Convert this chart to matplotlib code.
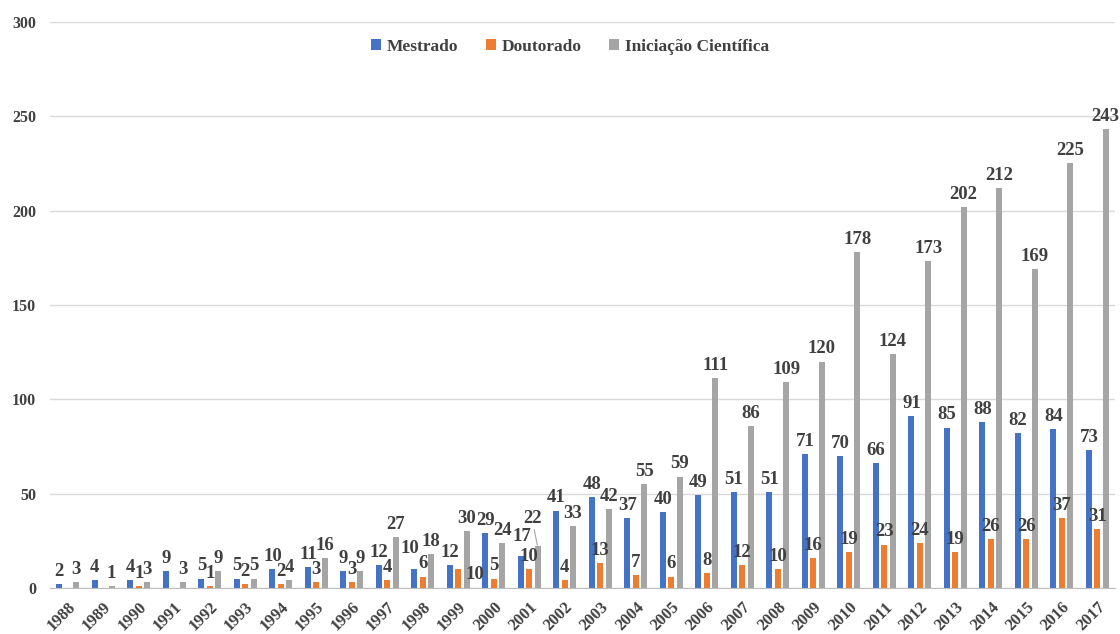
import numpy as np
import matplotlib.pyplot as plt

anos = [str(a) for a in range(1988, 2018)]
mestrado = [2, 4, 4, 9, 5, 5, 10, 11, 9, 12, 10, 12, 29, 17, 41, 48, 37, 40, 49, 51,
            51, 71, 70, 66, 91, 85, 88, 82, 84, 73]
doutorado = [0, 0, 1, 0, 1, 2, 2, 3, 3, 4, 6, 10, 5, 10, 4, 13, 7, 6, 8, 12,
             10, 16, 19, 23, 24, 19, 26, 26, 37, 31]
iniciacao = [3, 1, 3, 3, 9, 5, 4, 16, 9, 27, 18, 30, 24, 22, 33, 42, 55, 59, 111, 86,
             109, 120, 178, 124, 173, 202, 212, 169, 225, 243]

series = [("Mestrado", mestrado, "#4472C4"),
          ("Doutorado", doutorado, "#ED7D31"),
          ("Iniciação Científica", iniciacao, "#A5A5A5")]

# rotulos deslocados como no Excel (serie, ano): (dx, dy) em pontos
deslocados = {(1, "1999"): (12, -10), (2, "2001"): (-4, 14),
              (0, "2001"): (1, 8), (0, "1998"): (-3, 9)}

plt.rcParams['font.family'] = ['Liberation Serif', 'DejaVu Serif']
plt.rcParams['font.weight'] = 'bold'
txt = "#404040"

fig = plt.figure(figsize=(11.2, 6.34), dpi=100)
ax = fig.add_axes([0.0446, 0.0726, 0.951, 0.893])

x = np.arange(len(anos))
w = 0.17
step = 0.235
for i, (nome, vals, cor) in enumerate(series):
    pos = x + (i - 1) * step
    ax.bar(pos, vals, width=w, color=cor, label=nome, zorder=2)
    for p, v, ano in zip(pos, vals, anos):
        if v == 0:
            continue
        dx, dy = deslocados.get((i, ano), (0, 3))
        seta = None
        if (i, ano) == (2, "2001"):
            seta = dict(arrowstyle='-', color='#A6A6A6', lw=0.8,
                        shrinkA=0, shrinkB=1)
        ax.annotate(str(v), xy=(p, v), xytext=(dx, dy), textcoords='offset points',
                    ha='center', va='bottom', fontsize=13.5, fontweight='bold',
                    color=txt, arrowprops=seta)

ax.set_xlim(-0.5, len(anos) - 0.5)
ax.set_ylim(0, 300)
ax.set_yticks(range(0, 301, 50))
ax.set_xticks(x)
ax.set_xticklabels(anos, rotation=45, ha='right', rotation_mode='anchor',
                   fontsize=12, color=txt, fontweight='bold')
ax.tick_params(axis='x', length=0, pad=8)
ax.tick_params(axis='y', length=0, pad=10, labelsize=11.5, labelcolor=txt)
for lb in ax.get_yticklabels():
    lb.set_fontweight('bold')
ax.grid(axis='y', color='#D9D9D9', linewidth=1, zorder=0)
for s in ['top', 'right', 'left']:
    ax.spines[s].set_visible(False)
ax.spines['bottom'].set_color('#BFBFBF')

ax.legend(loc='center', bbox_to_anchor=(0.488, 0.956), ncol=3, frameon=False,
          fontsize=12.5, handlelength=0.6, handleheight=0.6, handletextpad=0.3,
          columnspacing=1.6, labelcolor=txt)

fig.savefig("out.png", dpi=100)
